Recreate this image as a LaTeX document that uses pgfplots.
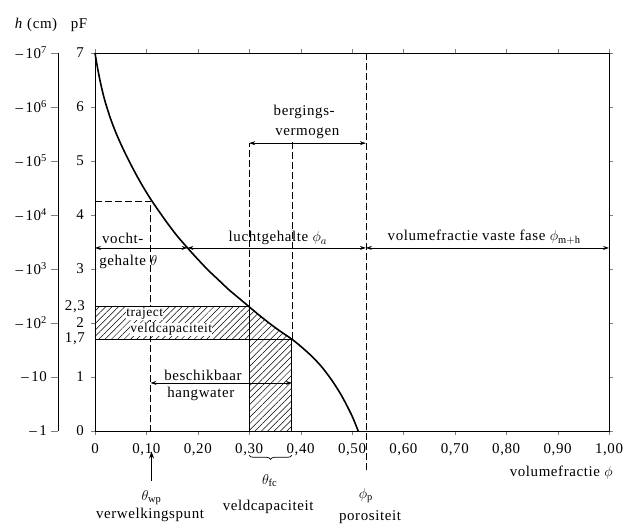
\documentclass[border=0pt]{standalone}
\usepackage{fontspec}
\setmainfont{Liberation Serif}[LetterSpace=4]
\usepackage{pgfplots}
\pgfplotsset{compat=1.18}
\usetikzlibrary{patterns.meta,arrows.meta,decorations.pathreplacing}

\pgfplotstableread{
x y
0 7
0.005 6.72
0.01 6.48
0.015 6.27
0.02 6.09
0.03 5.79
0.04 5.54
0.05 5.32
0.06 5.12
0.07 4.93
0.08 4.75
0.09 4.58
0.10 4.42
0.11 4.27
0.12 4.13
0.14 3.86
0.16 3.61
0.18 3.39
0.20 3.18
0.22 2.98
0.24 2.80
0.26 2.62
0.28 2.46
0.30 2.30
0.32 2.14
0.34 1.99
0.36 1.85
0.383 1.70
0.40 1.57
0.42 1.40
0.44 1.20
0.46 0.95
0.48 0.65
0.50 0.28
0.512 0
}\curve

\begin{document}
\fontsize{15}{17}\selectfont
\begin{tikzpicture}[>={Stealth[length=6bp,width=4bp]}]
\useasboundingbox (-95bp,-96bp) rectangle (534bp,431bp);
% secondary h axis
\begin{axis}[at={(-37bp,0)}, anchor=south west, scale only axis,
  width=1bp, height=378bp, xmin=0, xmax=1, ymin=0, ymax=7,
  hide x axis, axis y line*=left,
  ytick={0,1,2,3,4,5,6,7},
  yticklabels={–\,1,–\,10,–\,10\textsuperscript{2},–\,10\textsuperscript{3},–\,10\textsuperscript{4},–\,10\textsuperscript{5},–\,10\textsuperscript{6},–\,10\textsuperscript{7}},
  tick align=outside, major tick length=7bp,
  axis line style={line width=0.8bp},
  yticklabel style={xshift=1bp},
]
\end{axis}
\begin{axis}[at={(0,0)}, anchor=south west, scale only axis,
  width=514bp, height=378bp, xmin=0, xmax=1, ymin=0, ymax=7, clip=false,
  xtick={0,0.1,0.2,0.3,0.4,0.5,0.6,0.7,0.8,0.9,1.0},
  xticklabels={0,{0,10},{0,20},{0,30},{0,40},{0,50},{0,60},{0,70},{0,80},{0,90},{1,00}},
  ytick={0,1,2,3,4,5,6,7},
  yticklabels={0,1,2,3,4,5,6,7},
  extra y ticks={1.7,2.3},
  extra y tick labels={{1,7},{2,3}},
  extra y tick style={major tick length=0bp, yticklabel style={xshift=-3bp}},
  tick align=outside, major tick length=4bp,
  axis line style={line width=0.8bp},
  xticklabel style={yshift=-3bp},
  yticklabel style={xshift=-2bp},
]
% hatched region
\addplot[draw=none, pattern={Lines[angle=45,distance=4.5bp,line width=0.5bp]}] coordinates {
 (0,1.7) (0,2.3) (0.30,2.3) (0.32,2.14) (0.34,1.99) (0.36,1.85) (0.383,1.7) (0.383,0) (0.30,0) (0.30,1.7) (0,1.7)};
% solid boundaries
\addplot[black, line width=0.8bp] coordinates {(0,2.3) (0.30,2.3) (0.30,0)};
\addplot[black, line width=0.8bp] coordinates {(0,1.7) (0.383,1.7) (0.383,0)};
% dashed lines
\addplot[black, line width=0.6bp, dash pattern=on 7bp off 3bp] coordinates {(0,4.26) (0.108,4.26) (0.108,0)};
\addplot[black, line width=0.6bp, dash pattern=on 7bp off 3bp] coordinates {(0.30,2.3) (0.30,5.33)};
\addplot[black, line width=0.6bp, dash pattern=on 7bp off 3bp] coordinates {(0.383,1.7) (0.383,5.4)};
\addplot[black, line width=0.6bp, dash pattern=on 7bp off 3bp] coordinates {(0.527,7) (0.527,-0.72)};
% curve
\addplot[black, line width=1.6bp, smooth] table[x=x,y=y] {\curve};
% arrows
\draw[<->, line width=0.7bp] (axis cs:0,3.39) -- (axis cs:0.18,3.39);
\draw[<->, line width=0.7bp] (axis cs:0.18,3.39) -- (axis cs:0.527,3.39);
\draw[<->, line width=0.7bp] (axis cs:0.527,3.39) -- (axis cs:1.0,3.39);
\draw[<->, line width=0.7bp] (axis cs:0.30,5.33) -- (axis cs:0.527,5.33);
\draw[<->, line width=0.7bp] (axis cs:0.108,0.89) -- (axis cs:0.383,0.89);
% texts inside
\node[anchor=base] at (axis cs:0.054,3.47) {vocht-};
\node[anchor=base west, inner sep=0pt] at (axis cs:0.008,3.07) {gehalte $\theta$};
\node[anchor=base] at (axis cs:0.356,3.5) {luchtgehalte $\phi_a$};
\node[anchor=base] at (axis cs:0.757,3.52) {volumefractie vaste fase $\phi_{\mathrm{m+h}}$};
\node[anchor=base] at (axis cs:0.407,5.85) {bergings-};
\node[anchor=base] at (axis cs:0.413,5.48) {vermogen};
\node[anchor=base west, inner sep=0.3bp, fill=white, font={\fontsize{13.5}{15}\selectfont}] at (axis cs:0.060,2.12) {traject};
\node[anchor=base west, inner sep=0.3bp, fill=white, font={\fontsize{13.5}{15}\selectfont}] at (axis cs:0.068,1.82) {veldcapaciteit};
\node[anchor=base, fill=white, inner sep=0.5bp] at (axis cs:0.21,0.94) {beschikbaar};
\node[anchor=base, fill=white, inner sep=0.5bp] at (axis cs:0.206,0.62) {hangwater};
% below axis
\draw[-{Stealth[length=7bp,width=5bp]}, line width=0.8bp] (axis cs:0.11,-0.92) -- (axis cs:0.11,-0.38);
\node at (axis cs:0.11,-1.24) {$\theta_{\mathrm{wp}}$};
\node at (axis cs:0.107,-1.56) {verwelkingspunt};
\draw[decorate, decoration={brace,mirror,amplitude=4bp}, line width=0.7bp] (axis cs:0.30,-0.45) -- (axis cs:0.383,-0.45);
\node at (axis cs:0.34,-0.92) {$\theta_{\mathrm{fc}}$};
\node at (axis cs:0.337,-1.41) {veldcapaciteit};
\node at (axis cs:0.527,-1.2) {$\phi_{\mathrm{p}}$};
\node at (axis cs:0.535,-1.6) {porositeit};
\node at (axis cs:0.907,-0.78) {volumefractie $\phi$};
\end{axis}
\node at (-59bp,406bp) {\textit{h} (cm)};
\node at (-16bp,406bp) {pF};
\end{tikzpicture}
\end{document}
